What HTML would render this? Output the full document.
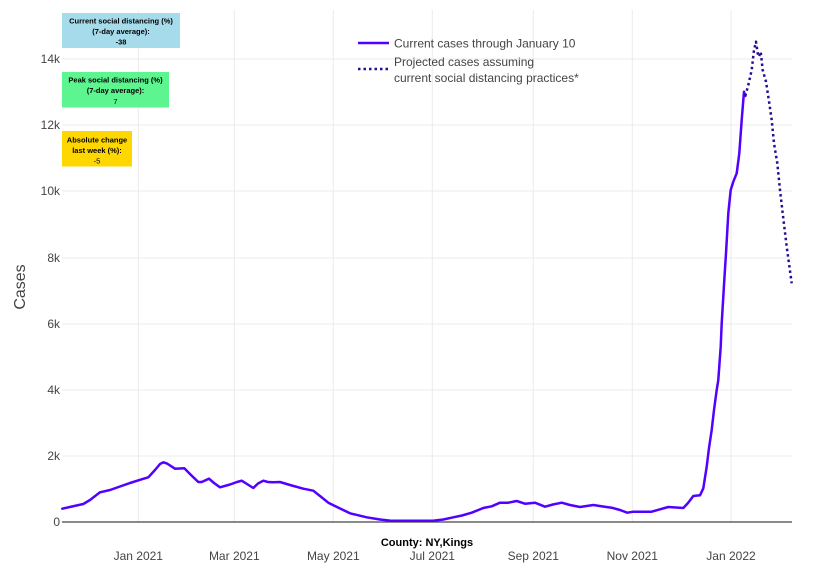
<!DOCTYPE html>
<html>
<head>
<meta charset="utf-8">
<style>
  html,body{margin:0;padding:0;background:#fff;}
  svg{display:block;font-family:"Liberation Sans",Arial,sans-serif;}
</style>
</head>
<body>
<svg width="815" height="582" viewBox="0 0 815 582" xmlns="http://www.w3.org/2000/svg">
  <rect width="815" height="582" fill="#fff"/>
  <!-- vertical gridlines -->
  <g stroke="#ebebeb" stroke-width="1">
    <line x1="138.3" y1="10" x2="138.3" y2="522"/>
    <line x1="234.3" y1="10" x2="234.3" y2="522"/>
    <line x1="333.3" y1="10" x2="333.3" y2="522"/>
    <line x1="432.3" y1="10" x2="432.3" y2="522"/>
    <line x1="533.3" y1="10" x2="533.3" y2="522"/>
    <line x1="632.3" y1="10" x2="632.3" y2="522"/>
    <line x1="731" y1="10" x2="731" y2="522"/>
  </g>
  <!-- horizontal gridlines -->
  <g stroke="#ebebeb" stroke-width="1">
    <line x1="62" y1="456" x2="792" y2="456"/>
    <line x1="62" y1="390" x2="792" y2="390"/>
    <line x1="62" y1="324" x2="792" y2="324"/>
    <line x1="62" y1="258" x2="792" y2="258"/>
    <line x1="62" y1="191" x2="792" y2="191"/>
    <line x1="62" y1="125" x2="792" y2="125"/>
    <line x1="62" y1="59" x2="792" y2="59"/>
  </g>
  <!-- zero line -->
  <line x1="62" y1="522" x2="792" y2="522" stroke="#444" stroke-width="1.2"/>

  <!-- y tick labels -->
  <g font-size="12" fill="#444" text-anchor="end">
    <text x="60" y="526">0</text>
    <text x="60" y="460">2k</text>
    <text x="60" y="394">4k</text>
    <text x="60" y="328">6k</text>
    <text x="60" y="262">8k</text>
    <text x="60" y="195">10k</text>
    <text x="60" y="129">12k</text>
    <text x="60" y="63">14k</text>
  </g>
  <text x="0" y="0" font-size="16" fill="#444" text-anchor="middle" transform="translate(25,287) rotate(-90)">Cases</text>

  <!-- x tick labels -->
  <g font-size="12" fill="#444" text-anchor="middle">
    <text x="138.3" y="560">Jan 2021</text>
    <text x="234.3" y="560">Mar 2021</text>
    <text x="333.3" y="560">May 2021</text>
    <text x="432.3" y="560">Jul 2021</text>
    <text x="533.3" y="560">Sep 2021</text>
    <text x="632.3" y="560">Nov 2021</text>
    <text x="731" y="560">Jan 2022</text>
  </g>
  <text x="427" y="546" font-size="11" font-weight="bold" fill="#000" text-anchor="middle">County: NY,Kings</text>

  <!-- solid series -->
  <polyline fill="none" stroke="#5200ff" stroke-width="2.5" stroke-linejoin="round" stroke-linecap="round"
    points="62.3,508.7 72,506.5 83.3,504 90,500 100,492.3 110,490 120,486.5 130,483 140,479.8 148.3,477.3 155,470 160,464 163.3,462.3 167,463.5 175,468.7 184.3,468.3 191,475 198.3,482 201.7,482 205,480.5 209,478.7 214,483 220,487.3 230,484.5 237,482 241.7,480.7 247,484 253.3,488 258,483.5 263.3,480.7 268,482 273.3,482.3 280,482 290,485 303.3,488.7 313.3,490.7 320,496 328.3,502.7 338,507.5 350,513.3 366.7,517.3 380,519.5 390,520.6 410,520.7 433,520.7 443.3,519.5 453.3,517.3 462,515.5 471.7,512.7 483.3,508 491.7,506.3 500,502.7 508.3,502.7 516.7,501 525,503.7 535,502.7 545,506.7 553,504.5 561.7,502.7 570,505 580,507 593.3,505 603,506.5 611.7,507.7 620,510 627.3,512.7 633.3,511.7 651.7,511.7 660,509.3 668.3,507 676,507.5 683.3,508 688,503 693.3,496 700,495.3 703.3,488.3 706.7,466.7 709,448 711.7,430 714,410 716.7,390 718.3,380 720.7,346.7 721.7,323.3 722.7,306.7 724.3,280 726,253.3 728.3,213.3 730.7,190 733.3,181.7 736.7,173.3 739.3,153.3 741.7,120 744,91.7 745.3,96"/>

  <!-- dotted projection -->
  <polyline fill="none" stroke="#2b0b92" stroke-width="2.5" stroke-dasharray="2.5,3" stroke-linejoin="round"
    points="745.3,96 748.3,85 751.7,70 754,50 756,41.7 757.7,53.3 759,56.7 760.7,51.7 762.7,70 766,81.7 769.3,103.3 771.7,120 774,143.3 777.3,163.3 780,190 782.7,213.3 786.7,246.7 791.7,283.3"/>

  <!-- legend -->
  <line x1="358" y1="43" x2="389" y2="43" stroke="#5200ff" stroke-width="2.5"/>
  <text x="394" y="47.5" font-size="12" fill="#444">Current cases through January 10</text>
  <line x1="358" y1="69" x2="389" y2="69" stroke="#2b0b92" stroke-width="2.5" stroke-dasharray="2.5,3"/>
  <text x="394" y="66" font-size="12" fill="#444">Projected cases assuming</text>
  <text x="394" y="82" font-size="12" fill="#444">current social distancing practices*</text>

  <!-- annotation boxes -->
  <rect x="62" y="13" width="118" height="35" fill="#a5dbea"/>
  <g font-size="7.5" fill="#000" text-anchor="middle" font-weight="bold">
    <text x="121" y="23.5">Current social distancing (%)</text>
    <text x="121" y="34">(7-day average):</text>
    <text x="121" y="44.5">-38</text>
  </g>
  <rect x="62" y="72" width="107" height="35.5" fill="#5cf58f"/>
  <g font-size="7.5" fill="#000" text-anchor="middle">
    <text x="115.5" y="82.5" font-weight="bold">Peak social distancing (%)</text>
    <text x="115.5" y="93" font-weight="bold">(7-day average):</text>
    <text x="115.5" y="104">7</text>
  </g>
  <rect x="62" y="131" width="70" height="35.5" fill="#ffd700"/>
  <g font-size="7.5" fill="#000" text-anchor="middle">
    <text x="97" y="142.5" font-weight="bold">Absolute change</text>
    <text x="97" y="153" font-weight="bold">last week (%):</text>
    <text x="97" y="163.5">-5</text>
  </g>
</svg>
</body>
</html>
